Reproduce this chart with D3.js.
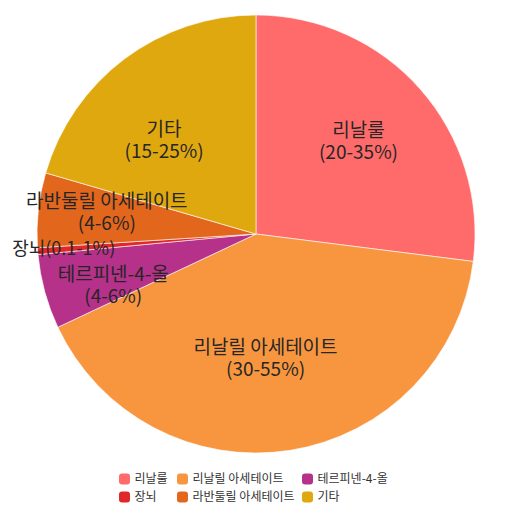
<!DOCTYPE html>
<html>
<head>
<meta charset="utf-8">
<script src="https://cdn.jsdelivr.net/npm/d3@7"></script>
<style>
  body { margin: 0; background: #fff; }
  svg { display: block; font-family: "Noto Sans CJK KR", "Noto Sans", sans-serif; }
</style>
</head>
<body>
<svg id="canvas"></svg>
<script>
let names = ['리날룰', '리날릴 아세테이트', '테르피넨-4-올', '장뇌', '라반둘릴 아세테이트', '기타']
let ranges = ['(20-35%)', '(30-55%)', '(4-6%)', '(0.1-1%)', '(4-6%)', '(15-25%)']
let values = [27, 41, 5.5, 0.5, 5.5, 20.5]
let colors = ['#ff6b6b', '#f8963f', '#b5318a', '#e0282a', '#e3661d', '#e0a80f']

let width = 512
let height = 512
let cx = 256
let cy = 234
let radius = 219

// where each label sits: fraction of radius, plus a small nudge
let labelRadius = [0.63, 0.57, 0.69, 0.89, 0.69, 0.6]
let labelNudge = [[-1, -1], [-10, 1], [3, 11], [2, -1], [1, -5], [-13, 11]]

let svg = d3.select('#canvas')
	.attr('width', width)
	.attr('height', height)

let data = names.map((n, i) => ({ name: n, range: ranges[i], value: values[i], color: colors[i], i: i }))

let pie = d3.pie()
	.sort(null)
	.value(d => d.value)

let arcs = pie(data)

let arc = d3.arc()
	.innerRadius(0)
	.outerRadius(radius)

let g = svg.append('g')
	.attr('transform', `translate(${cx}, ${cy})`)

g.selectAll('path')
	.data(arcs)
	.enter()
	.append('path')
	.attr('d', arc)
	.attr('fill', d => d.data.color)
	.attr('stroke', '#fff')
	.attr('stroke-width', 0.6)

let labels = g.selectAll('text.label')
	.data(arcs)
	.enter()
	.append('text')
	.attr('class', 'label')
	.attr('text-anchor', 'middle')
	.attr('fill', '#262626')
	.attr('font-size', 19)
	.attr('transform', d => {
		let r = radius * labelRadius[d.data.i]
		let la = d3.arc().innerRadius(r).outerRadius(r)
		let c = la.centroid(d)
		let n = labelNudge[d.data.i]
		return `translate(${c[0] + n[0]}, ${c[1] + n[1]})`
	})

labels.each(function(d) {
	let t = d3.select(this)
	if (d.data.name === '장뇌') {
		t.append('tspan')
			.attr('x', 0)
			.attr('dy', '0.35em')
			.attr('font-size', 18)
			.text(d.data.name + d.data.range)
	} else {
		t.append('tspan')
			.attr('x', 0)
			.attr('dy', '-0.23em')
			.text(d.data.name)
		t.append('tspan')
			.attr('x', 0)
			.attr('dy', '1.16em')
			.text(d.data.range)
	}
})

// legend, 3 per row
let legendX = [119, 177, 302]
let legendY = [479, 497]

let legend = svg.append('g')
	.attr('id', 'legend')

let items = legend.selectAll('g')
	.data(data)
	.enter()
	.append('g')
	.attr('transform', d => `translate(${legendX[d.i % 3]}, ${legendY[Math.floor(d.i / 3)]})`)

items.append('rect')
	.attr('x', 0)
	.attr('y', -5.5)
	.attr('width', 11)
	.attr('height', 11)
	.attr('rx', 3)
	.attr('fill', d => d.color)

items.append('text')
	.attr('x', 15.5)
	.attr('dy', '0.35em')
	.attr('font-size', 12)
	.attr('fill', '#333')
	.text(d => d.name)
</script>
</body>
</html>
